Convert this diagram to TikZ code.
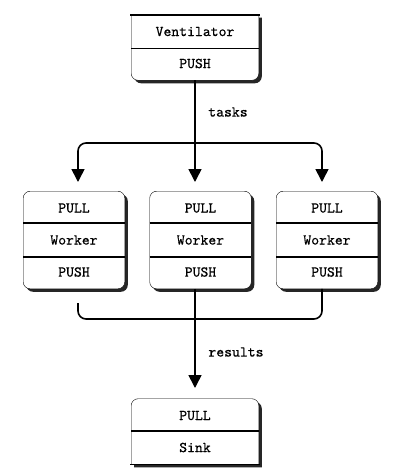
\documentclass[tikz,border=0pt]{standalone}
\usepackage{fontspec}
\usepackage{tikz}
\usetikzlibrary{arrows.meta,backgrounds}
\newfontfamily\boxfont{lmmono10-regular.otf}[FakeBold=0.5]

\begin{document}
\begin{tikzpicture}[x=1pt,y=-1pt,line width=1.6pt,
  font=\boxfont\fontsize{15}{17}\selectfont,
  cell/.style={minimum width=100pt,minimum height=32pt,inner sep=0pt},
  wide/.style={cell,minimum width=126pt},
  box/.style={draw,line cap=rect,fill=white,preaction={fill=black!85,transform canvas={xshift=3pt,yshift=-3pt}}},
  arr/.style={-{Triangle[width=13pt,length=13pt]}},
  elbow/.style={rounded corners=8pt}]
  \useasboundingbox (0,0) rectangle (405,475);
  \node[wide] (vent) at (195,31.5) {Ventilator};
  \node[wide] (ventpush) at (195,63.5) {PUSH};
  \foreach \w/\x in {w1/74,w2/200.5,w3/327} {
    \node[cell] (\w pull) at (\x,208) {PULL};
    \node[cell] (\w) at (\x,240) {Worker};
    \node[cell] (\w push) at (\x,272) {PUSH};
  }
  \node[wide] (sinkpull) at (195,415.5) {PULL};
  \node[wide] (sink) at (195,447.5) {Sink};
  \node (tasks) at (228,112) {tasks};
  \node (results) at (236,352) {results};
  \begin{scope}[on background layer]
    \draw[box,rounded corners=7pt] (vent.north east) -- (ventpush.south east) -- (ventpush.south west) -- (vent.north west);
    \draw[box,rounded corners=7pt] (sink.south west) -- (sinkpull.north west) -- (sinkpull.north east) -- (sink.south east);
    \foreach \w in {w1,w2,w3}
      \draw[box,rounded corners=7pt] (\w pull.north west) rectangle (\w push.south east);
  \end{scope}
  \draw[line cap=rect] (vent.north west) -- (vent.north east) (sink.south west) -- (sink.south east);
  \foreach \w in {w1,w2,w3}
    \draw (\w.north west) -- (\w.north east) (\w.south west) -- (\w.south east);
  \draw (vent.south west) -- (vent.south east) (sink.north west) -- (sink.north east);
  \coordinate (split) at (195,143);
  \coordinate (in1) at (78,182);
  \coordinate (in2) at (195,182);
  \coordinate (in3) at (322,182);
  \coordinate (out1) at (78,303);
  \coordinate (join) at (195,319);
  \coordinate (sinkin) at (195,388);
  \draw[arr] (ventpush.south) -- (in2);
  \draw[arr,elbow] (split) -| (in1);
  \draw[arr,elbow] (split) -| (in3);
  \draw[elbow] (out1) |- (join) -| (w3push.south -| in3);
  \draw[arr] (w2push.south -| join) -- (sinkin);
\end{tikzpicture}
\end{document}
